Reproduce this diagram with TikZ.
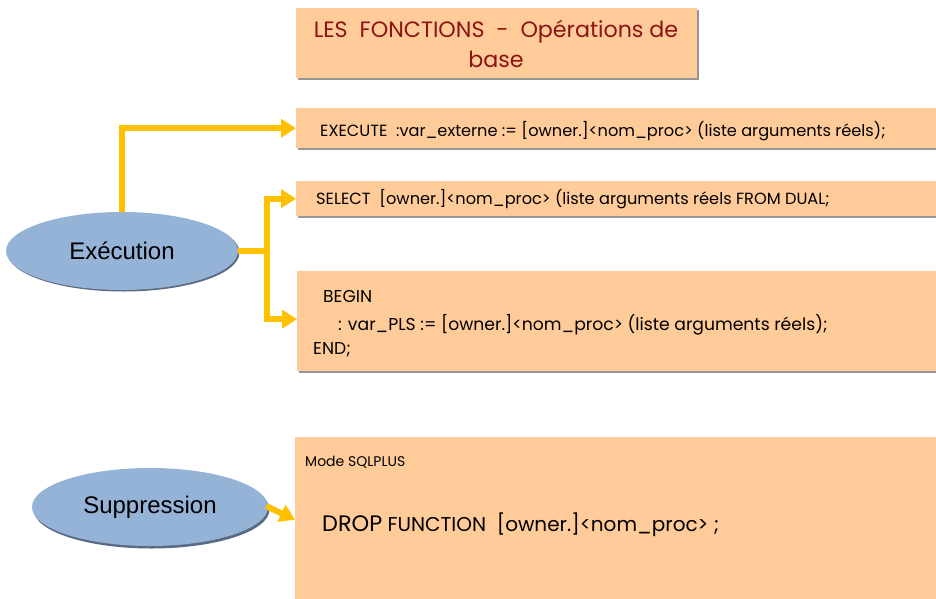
\documentclass[tikz,border=0pt]{standalone}
\usepackage{fontspec}
\setmainfont{Poppins}
\newfontfamily\arialf{Liberation Sans}
\usetikzlibrary{arrows.meta,shapes.geometric}
\definecolor{peach}{RGB}{255,203,153}
\definecolor{gold}{RGB}{255,192,0}
\definecolor{ellblue}{RGB}{149,179,215}
\definecolor{ellshadow}{RGB}{90,106,130}
\definecolor{titlered}{RGB}{140,20,20}
\definecolor{boxshadow}{RGB}{150,150,150}
\tikzset{
  x=1pt,y=-1pt,
  peachbox/.style={draw=none,fill=peach,inner sep=0pt,anchor=north west},
  oval/.style={ellipse,fill=ellblue,inner sep=0pt,font=\arialf\fontsize{24}{28}\selectfont},
  txt/.style={anchor=base west,inner sep=0pt,font=\fontsize{16.2}{18}\selectfont},
  conn/.style={draw=gold,line width=6pt},
  arr/.style={conn,-{Triangle[length=15pt,width=18pt]}},
}
\begin{document}
\begin{tikzpicture}
\useasboundingbox (0,0) rectangle (936,599);
% shadows
\fill[boxshadow] (298,10) rectangle (699,80);
\fill[boxshadow] (298,110) rectangle (940,150);
\fill[boxshadow] (298,183) rectangle (940,218);
\fill[boxshadow] (299,273) rectangle (940,373);
% boxes
\node[peachbox,minimum width=401pt,minimum height=70pt] (title) at (296,8) {};
\node[peachbox,minimum width=645pt,minimum height=40pt] (b1) at (296,108) {};
\node[peachbox,minimum width=645pt,minimum height=35pt] (b2) at (296,181) {};
\node[peachbox,minimum width=645pt,minimum height=100pt] (b3) at (297,271) {};
\node[peachbox,minimum width=645pt,minimum height=165pt] (b4) at (295,437) {};
% title text
\node[anchor=base,inner sep=0pt,text=titlered,font=\fontsize{22.2}{26}\selectfont] (t1) at (496,38) {LES\ \ FONCTIONS\ \ -\ \ Opérations de};
\node[anchor=base,inner sep=0pt,text=titlered,font=\fontsize{22.2}{26}\selectfont] (t2) at (496,68) {base};
% box texts
\node[txt] (x1) at (320,136) {EXECUTE\ \ :var\_externe := [owner.]<nom\_proc> (liste arguments réels);};
\node[txt] (x2) at (316,204) {SELECT\ \ [owner.]<nom\_proc> (liste arguments réels FROM DUAL;};
\node[txt,font=\fontsize{17.2}{19}\selectfont] (x3) at (323,302) {BEGIN};
\node[txt,font=\fontsize{17.2}{19}\selectfont] (x4) at (338,330) {: var\_PLS := [owner.]<nom\_proc> (liste arguments réels);};
\node[txt,font=\fontsize{17.2}{19}\selectfont] (x5) at (313,354) {END;};
\node[txt,font=\fontsize{14}{16}\selectfont] (x6) at (305,466) {Mode SQLPLUS};
\node[txt,font=\fontsize{20}{24}\selectfont] (x7) at (322,531) {{\fontsize{22.4}{24}\selectfont DROP} FUNCTION\ \ [owner.]<nom\_proc> ;};
% ellipses
\fill[ellshadow] (123.5,252.5) ellipse [x radius=116pt,y radius=39pt];
\node[oval,minimum width=232pt,minimum height=78pt] (exe) at (122,251) {Exécution};
\fill[ellshadow] (151.5,509.5) ellipse [x radius=118pt,y radius=39pt];
\node[oval,minimum width=236pt,minimum height=78pt] (sup) at (150,507) {Suppression};
% connectors
\coordinate (j) at (267,251);
\draw[arr] (exe.north) |- (b1.west);
\draw[conn] (exe.east) -- (j);
\draw[arr] (j) |- (b2.west);
\draw[arr] (j) |- ([yshift=2pt]b3.west);
\draw[arr,shorten <=-2pt] (sup.east) -- (b4.west);
\end{tikzpicture}
\end{document}
